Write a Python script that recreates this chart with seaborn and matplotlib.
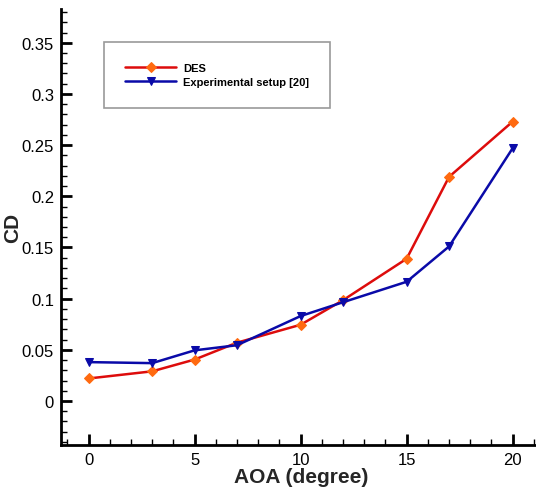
import matplotlib
matplotlib.use("Agg")
import matplotlib.pyplot as plt
import seaborn as sns
import pandas as pd
from matplotlib.ticker import MultipleLocator

aoa = [0, 3, 5, 7, 10, 12, 15, 17, 20]
cd_des = [0.022, 0.029, 0.0405, 0.057, 0.0745, 0.0985, 0.139, 0.219, 0.273]
cd_exp = [0.038, 0.037, 0.0495, 0.0545, 0.083, 0.0965, 0.1165, 0.151, 0.247]

sns.set_theme(style="ticks")
plt.rcParams['font.family'] = ['Liberation Sans', 'DejaVu Sans']

fig = plt.figure(figsize=(5.36, 4.89), dpi=100)
ax = fig.add_axes([0.1138, 0.0879, 0.8862, 0.8917])

df_des = pd.DataFrame({"AOA": aoa, "CD": cd_des})
df_exp = pd.DataFrame({"AOA": aoa, "CD": cd_exp})

sns.lineplot(data=df_des, x="AOA", y="CD", ax=ax, color="#dd0c0c", lw=1.8,
             marker="D", markersize=5.5, markerfacecolor="#ff6a10",
             markeredgecolor="#ff6a10", label="DES")
sns.lineplot(data=df_exp, x="AOA", y="CD", ax=ax, color="#0a0aa8", lw=1.8,
             marker="v", markersize=5.5, markerfacecolor="#0a0aa8",
             markeredgecolor="#0a0aa8", label="Experimental setup [20]")

ax.set_xlim(-1.3, 21.1)
ax.set_ylim(-0.043, 0.383)
ax.xaxis.set_major_locator(MultipleLocator(5))
ax.xaxis.set_minor_locator(MultipleLocator(1))
ax.yaxis.set_major_locator(MultipleLocator(0.05))
ax.yaxis.set_minor_locator(MultipleLocator(0.01))
ax.yaxis.set_major_formatter(plt.FuncFormatter(lambda v, p: ("%g" % round(v, 2))))

for s in ["top", "right"]:
    ax.spines[s].set_visible(False)
for s in ["left", "bottom"]:
    ax.spines[s].set_linewidth(2)
    ax.spines[s].set_color("black")

ax.tick_params(which="major", direction="in", length=8, width=2, labelsize=12,
               colors="black")
ax.tick_params(axis="y", which="major", pad=5)
ax.tick_params(axis="x", which="major", pad=5)
ax.tick_params(which="minor", direction="in", length=4, width=1, colors="black")

ax.set_xlabel("AOA (degree)", fontsize=15, fontweight="bold")
ax.set_ylabel("CD", fontsize=15, fontweight="bold")
ax.xaxis.set_label_coords(0.505, -0.051)
ax.yaxis.set_label_coords(-0.081, 0.5)

leg = ax.legend(loc="upper left", bbox_to_anchor=(0.0905, 0.924),
                frameon=True, fancybox=False, edgecolor="#808080",
                prop={"weight": "bold", "size": 8}, handlelength=4.6,
                handletextpad=0.6,
                borderpad=1.9, labelspacing=0.35, borderaxespad=0)
leg.get_frame().set_linewidth(1.2)
for t in leg.get_texts():
    t.set_color("black")

fig.savefig("out.png", dpi=100)
